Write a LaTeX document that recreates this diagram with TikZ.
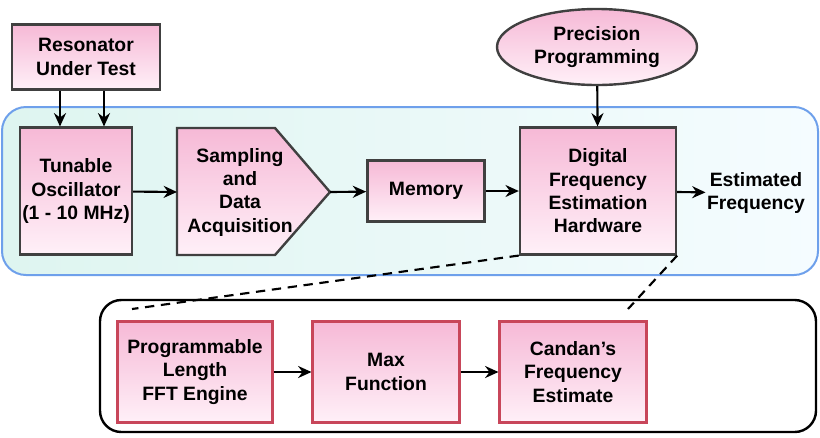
\documentclass[tikz,border=0pt]{standalone}
\usepackage{fontspec}
\setmainfont{Liberation Sans}
\usetikzlibrary{shapes.geometric,arrows.meta}
\definecolor{boxtop}{RGB}{246,185,214}
\definecolor{boxbot}{RGB}{255,240,248}
\definecolor{frameblue}{RGB}{110,160,235}
\definecolor{bgleft}{RGB}{222,245,240}
\definecolor{bgright}{RGB}{245,252,255}
\definecolor{boxred}{RGB}{200,70,90}
\tikzset{
  block/.style={draw=black!75,line width=1.8pt,top color=boxtop,bottom color=boxbot,align=center,inner sep=1pt,font=\bfseries\fontsize{14.5}{17.5}\selectfont},
  subblock/.style={block,draw=boxred},
  lbl/.style={align=center,inner sep=1pt,font=\bfseries\fontsize{14.5}{17.5}\selectfont},
  flow/.style={-{Stealth[length=10pt,width=9pt]},line width=1.6pt}
}
\begin{document}
\begin{tikzpicture}[x=0.75pt,y=-0.75pt]
\useasboundingbox (0,0) rectangle (820,437);
% frames
\draw [frameblue,line width=1.5pt,rounded corners=18pt,left color=bgleft,right color=bgright] (2,107) rectangle (818,275);
\draw [black,line width=1.8pt,rounded corners=16pt,fill=white] (100,300) rectangle (816,432);
% top row
\node [block,minimum width=111pt,minimum height=49pt] (res) at (86,57) {Resonator\\Under Test};
\node [block,ellipse,minimum width=150pt,minimum height=57pt] (prec) at (597,47) {Precision\\Programming};
\node [block,minimum width=84pt,minimum height=95pt] (osc) at (76,191) {Tunable\\Oscillator\\(1 - 10 MHz)};
\draw [block] (177,128) -- (275,128) -- (330,192) -- (275,255) -- (177,255) -- cycle;
\node [lbl] (samp) at (240,192) {Sampling\\and\\Data\\Acquisition};
\coordinate (sampin) at (177,192);
\coordinate (sampout) at (330,192);
\node [block,minimum width=88pt,minimum height=46pt] (mem) at (426,191) {Memory};
\node [block,minimum width=117pt,minimum height=95pt] (dig) at (598,191) {Digital\\Frequency\\Estimation\\Hardware};
\node [lbl] (est) at (756,193) {Estimated\\Frequency};
% bottom row
\node [subblock,minimum width=116pt,minimum height=76pt] (fft) at (195,372) {Programmable\\Length\\FFT Engine};
\node [subblock,minimum width=110pt,minimum height=76pt] (max) at (386,372) {Max\\Function};
\node [subblock,minimum width=110pt,minimum height=76pt] (cand) at (573,372) {Candan's\\Frequency\\Estimate};
% connectors
\draw [flow] (res.south -| 60,0) -- (osc.north -| 60,0);
\draw [flow] (res.south -| 104,0) -- (osc.north -| 104,0);
\draw [flow] (prec) -- (dig);
\draw [flow] (osc) -- (sampin);
\draw [flow] (sampout) -- (mem);
\draw [flow] (mem) -- (dig);
\draw [flow] (dig) -- (est);
\draw [flow] (fft) -- (max);
\draw [flow] (max) -- (cand);
\draw [dash pattern=on 7pt off 5pt,line width=1.6pt] (dig.south west) -- (132,309);
\draw [dash pattern=on 7pt off 5pt,line width=1.6pt] (dig.south east) -- (628,309);
\end{tikzpicture}
\end{document}
